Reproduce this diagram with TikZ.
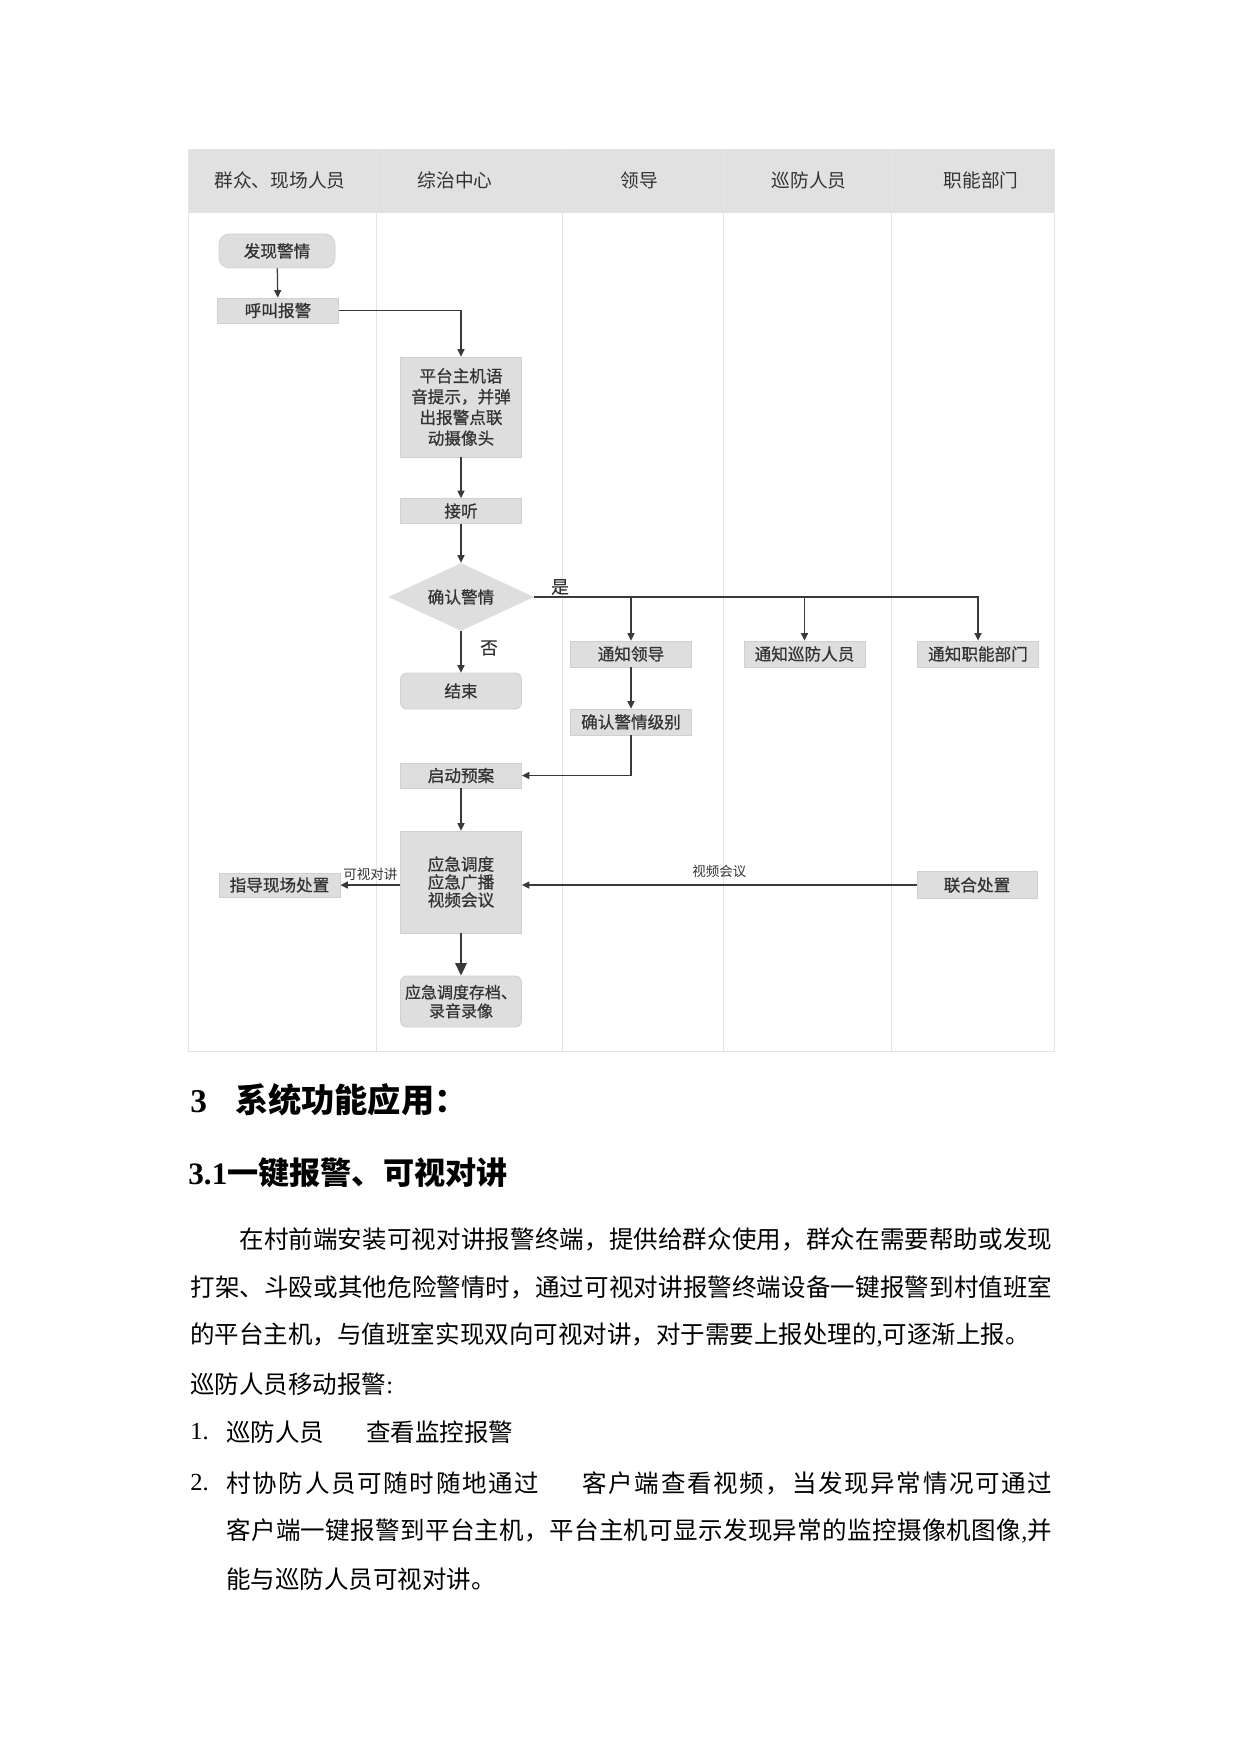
\documentclass[tikz,border=0pt]{standalone}
\usepackage{fontspec}
\usepackage{xcolor}
\usepackage{tikz}
\usetikzlibrary{arrows.meta, positioning, shapes.geometric, calc}
\setmainfont{Noto Sans CJK SC}
\newfontfamily\flowfont[FakeBold=0.7]{Noto Sans CJK SC}
\newfontfamily\latn{Liberation Serif}
\definecolor{flowfill}{HTML}{DEDEDE}
\definecolor{flowedge}{HTML}{D0D0D0}
\definecolor{headfill}{HTML}{E1E1E1}
\definecolor{lanerule}{HTML}{E4E4E4}
\definecolor{flowink}{HTML}{333333}
\definecolor{flowline}{HTML}{3A3A3A}
\newlength{\pxu}
\setlength{\pxu}{0.016922cm}
% spread the characters of a line over a given width
\makeatletter
\newcommand{\spreadline}[2]{\hbox to #1{\spread@go#2\relax\relax}}
\def\spread@go#1#2{#1\ifx\relax#2\expandafter\@gobble\else\hfil\expandafter\@firstofone\fi{\spread@go#2}}
\makeatother
\newcommand{\lc}{{\latn ,}}
\newcommand{\gapA}{\hspace{40\pxu}}
\tikzset{
  flowbox/.style={rectangle, fill=flowfill, draw=flowedge, line width=0.4pt,
    text=flowink, font=\flowfont\fontsize{8}{10}\selectfont, align=center,
    minimum width=121\pxu, minimum height=25\pxu, inner sep=1pt},
  roundbox/.style={flowbox, rounded corners=3pt},
  decision/.style={diamond, aspect=2.1, fill=flowfill, text=flowink,
    font=\flowfont\fontsize{8}{10}\selectfont, inner sep=0pt,
    minimum width=146\pxu, minimum height=68\pxu},
  arrowline/.style={draw=flowline, line width=0.6pt, -{Triangle[length=3.6pt,width=3.4pt]}},
  lanehead/.style={text=flowink, font=\fontsize{9}{11}\selectfont},
  edgelabel/.style={text=flowink, font=\fontsize{6.5}{8}\selectfont, inner sep=1pt},
  branchlabel/.style={text=flowink, font=\flowfont\fontsize{8.5}{10}\selectfont, inner sep=0pt},
  bodyline/.style={anchor=west, inner sep=0pt, text=black, font=\fontsize{11.8}{14}\selectfont},
  headline/.style={anchor=west, inner sep=0pt, text=black, font=\bfseries\fontsize{15}{18}\selectfont}
}
\begin{document}
\begin{tikzpicture}[x=0.016922cm, y=-0.016922cm]
  \useasboundingbox (0,0) rectangle (1241,1755);
  % swimlane frame
  \fill[headfill] (188,149) rectangle (1054,213);
  \draw[lanerule] (188,149) rectangle (1054,1051);
  \foreach \x in {376,562,723,891} \draw[lanerule] (\x,149) -- (\x,1051);
  % lane titles
  \foreach \nm/\x/\txt in {crowd/280/群众、现场人员, centre/455/综治中心, leader/639/领导,
                           patrol/809/巡防人员, dept/981/职能部门}
    \node[lanehead] (\nm) at (\x,180) {\txt};

  % alarm steps
  \node[roundbox, minimum width=116\pxu, minimum height=34\pxu, rounded corners=5pt] (found) at (277,251) {发现警情};
  \node[flowbox] (call) at (278,310.5) {呼叫报警};
  \node[flowbox, minimum height=100\pxu] (host) at (461,407) {平台主机语\\音提示，并弹\\出报警点联\\动摄像头};
  \node[flowbox] (answer) at (461,511) {接听};
  \node[decision] (confirm) at (461,597) {确认警情};
  \node[roundbox, minimum height=36\pxu] (finish) at (461,691) {结束};
  \node[flowbox, minimum height=26\pxu] (telllead) at (631,654) {通知领导};
  \node[flowbox, minimum height=26\pxu] (tellpatrol) at (804.5,654) {通知巡防人员};
  \node[flowbox, minimum height=26\pxu] (telldept) at (978,654) {通知职能部门};
  \node[flowbox, minimum height=26\pxu] (grade) at (631,722) {确认警情级别};
  \node[flowbox] (plan) at (461,775.5) {启动预案};
  \node[flowbox, minimum height=102\pxu, font=\flowfont\fontsize{8}{8.6}\selectfont] (dispatch) at (461,882) {应急调度\\应急广播\\视频会议};
  \node[flowbox, minimum height=24\pxu] (guide) at (279.5,885) {指导现场处置};
  \node[flowbox, minimum width=120\pxu, minimum height=27\pxu] (joint) at (977,885) {联合处置};
  \node[roundbox, minimum height=51\pxu, font=\flowfont\fontsize{7.7}{9}\selectfont] (archive) at (461,1001.5) {应急调度存档、\\录音录像};

  % connectors
  \draw[arrowline] (found) -- (call);
  \draw[arrowline] (call.east) -| (host.north);
  \draw[arrowline] (host) -- (answer);
  \draw[arrowline] (answer) -- (confirm);
  \draw[arrowline] (confirm) -- (finish);
  \node[branchlabel] (nolabel) at (489,648) {否};
  \draw[arrowline] (confirm.east) -| (telldept);
  \draw[arrowline] (telllead |- confirm) -- (telllead);
  \draw[arrowline] (tellpatrol |- confirm) -- (tellpatrol);
  \node[branchlabel] (yeslabel) at (560,587) {是};
  \draw[arrowline] (telllead) -- (grade);
  \draw[arrowline] (grade.south) |- (plan.east);
  \draw[arrowline] (plan) -- (dispatch);
  \draw[arrowline] (dispatch.west |- guide.east) -- node[edgelabel, above=1pt] {可视对讲} (guide.east);
  \draw[arrowline] (joint.west) -- node[edgelabel, above=2pt] {视频会议} (joint.west -| dispatch.east);
  \draw[arrowline, line width=0.9pt, -{Triangle[length=6pt,width=5.5pt]}] (dispatch) -- (archive);

  % section text
  \node[headline, font=\bfseries\fontsize{16}{18}\selectfont] (sechead) at (190,1100) {{\latn 3}\hspace{28\pxu}系统功能应用：};
  \node[headline] (subhead) at (188,1173) {{\latn 3.1}一键报警、可视对讲};
  \node[bodyline] (para1) at (239,1239) {\spreadline{813\pxu}{在村前端安装可视对讲报警终端，提供给群众使用，群众在需要帮助或发现}};
  \node[bodyline] (para2) at (190,1287) {\spreadline{862\pxu}{打架、斗殴或其他危险警情时，通过可视对讲报警终端设备一键报警到村值班室}};
  \node[bodyline] (para3) at (190,1335) {的平台主机，与值班室实现双向可视对讲，对于需要上报处理的\lc 可逐渐上报。};
  \node[bodyline] (para4) at (190,1384) {巡防人员移动报警{\latn :}};
  \node[bodyline] (num1) at (190,1432) {\latn 1.};
  \node[bodyline] (item1) at (226,1432) {巡防人员\hspace{42\pxu}查看监控报警};
  \node[bodyline] (num2) at (190,1483) {\latn 2.};
  \node[bodyline] (item2a) at (226,1483) {\spreadline{826\pxu}{村协防人员可随时随地通过\gapA 客户端查看视频，当发现异常情况可通过}};
  \node[bodyline] (item2b) at (226,1531) {\spreadline{826\pxu}{客户端一键报警到平台主机，平台主机可显示发现异常的监控摄像机图像\lc 并}};
  \node[bodyline] (item2c) at (226,1579) {能与巡防人员可视对讲。};
\end{tikzpicture}
\end{document}
